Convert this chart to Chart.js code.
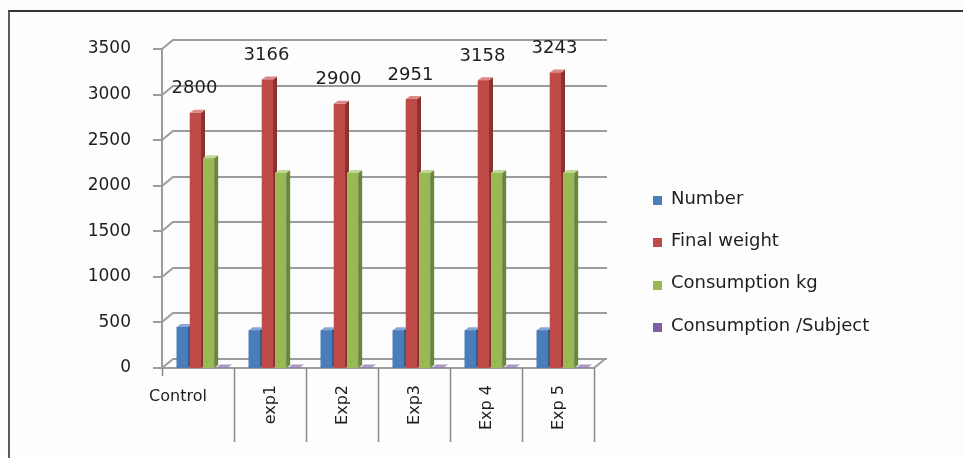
<!DOCTYPE html>
<html>
<head>
<meta charset="utf-8">
<title>Final weight and consumption</title>
<script src="https://cdn.jsdelivr.net/npm/chart.js@4.4.1/dist/chart.umd.min.js"></script>
<style>
  html, body { margin: 0; padding: 0; background: #fff; }
  #wrap { position: relative; width: 963px; height: 458px; overflow: hidden; background: #fdfdfd; }
  #frame { position: absolute; left: 8px; top: 10px; width: 970px; height: 460px;
           border-top: 2px solid #333; border-left: 2px solid #5a5a5a; }
  #chart { position: absolute; left: 0; top: 0; }
</style>
</head>
<body>
<div id="wrap">
  <div id="frame"></div>
  <canvas id="chart" width="963" height="458"></canvas>
</div>
<script>
// ---- data ----
const categories = ['Control', 'exp1', 'Exp2', 'Exp3', 'Exp 4', 'Exp 5'];
const numberValues = [450, 415, 415, 415, 415, 415];
const finalWeight = [2800, 3166, 2900, 2951, 3158, 3243];
const consumptionKg = [2300, 2140, 2140, 2140, 2140, 2140];
const consumptionPerSubject = [5.1, 5.2, 5.2, 5.2, 5.2, 5.2];
const yTicks = [0, 500, 1000, 1500, 2000, 2500, 3000, 3500];

// ---- look ----
const FONT = 'DejaVu Sans';
const TEXT = '#1e1e1e';
const GRID = '#9c9c9c';
const FRONT_SHIFT = -4;   // front edge of the floor sits a bit left of the bars
const WALL_DX = 11, WALL_DY = 9;   // depth of the back wall
const BAR_DX = 4, BAR_DY = 3;      // depth of each column

const series = [
  { label: 'Number',               data: numberValues,          front: '#4a7ebb', side: '#35598a', top: '#86a8d6' },
  { label: 'Final weight',         data: finalWeight,           front: '#be4b48', side: '#8a3230', top: '#dc8a88' },
  { label: 'Consumption kg',       data: consumptionKg,         front: '#98b954', side: '#6b873a', top: '#c2d896' },
  { label: 'Consumption /Subject', data: consumptionPerSubject, front: '#7d60a0', side: '#594577', top: '#ab97c8' }
];

const wallPlugin = {
  id: 'wall3d',
  // back wall, floor, axis line, ticks and category dividers
  beforeDatasetsDraw(chart) {
    const { ctx, chartArea, scales } = chart;
    const y = scales.y, x = scales.x;
    const fl = chartArea.left + FRONT_SHIFT;
    const fr = chartArea.right + FRONT_SHIFT;
    ctx.save();
    ctx.strokeStyle = GRID;
    ctx.lineWidth = 2;
    yTicks.forEach(v => {
      const py = Math.round(y.getPixelForValue(v));
      ctx.beginPath();
      ctx.moveTo(fl - 9, py);
      ctx.lineTo(fl, py);
      ctx.lineTo(fl + WALL_DX, py - WALL_DY);
      ctx.lineTo(fr + WALL_DX + 2, py - WALL_DY);
      ctx.stroke();
    });
    const y0 = Math.round(y.getPixelForValue(0));
    const yTop = Math.round(y.getPixelForValue(yTicks[yTicks.length - 1]));
    ctx.beginPath();
    ctx.moveTo(fl, yTop);
    ctx.lineTo(fl, y0);
    ctx.lineTo(fr, y0);
    ctx.lineTo(fr + WALL_DX, y0 - WALL_DY);
    ctx.stroke();
    ctx.strokeStyle = '#8a8a8a';
    ctx.lineWidth = 1.5;
    const w = x.width / categories.length;
    for (let i = 0; i <= categories.length; i++) {
      const px = Math.round(fl + i * w) + 0.5;
      ctx.beginPath();
      ctx.moveTo(px, y0);
      ctx.lineTo(px, i === 0 ? y0 + 8 : y0 + 74);
      ctx.stroke();
    }
    ctx.restore();
  },
  // columns again, left to right, each with its side and top face,
  // so every column covers the side face of the one before it
  afterDatasetsDraw(chart) {
    const { ctx } = chart;
    ctx.save();
    for (let c = 0; c < categories.length; c++) {
      series.forEach((s, i) => {
        const bar = chart.getDatasetMeta(i).data[c];
        const l = bar.x - bar.width / 2, r = bar.x + bar.width / 2;
        bar.draw(ctx);
        ctx.fillStyle = s.side;
        ctx.beginPath();
        ctx.moveTo(r, bar.y);
        ctx.lineTo(r + BAR_DX, bar.y - BAR_DY);
        ctx.lineTo(r + BAR_DX, bar.base - BAR_DY);
        ctx.lineTo(r, bar.base);
        ctx.closePath();
        ctx.fill();
        ctx.fillStyle = s.top;
        ctx.beginPath();
        ctx.moveTo(l, bar.y);
        ctx.lineTo(l + BAR_DX, bar.y - BAR_DY);
        ctx.lineTo(r + BAR_DX, bar.y - BAR_DY);
        ctx.lineTo(r, bar.y);
        ctx.closePath();
        ctx.fill();
      });
    }
    ctx.restore();
  },
  afterDraw(chart) {
    const { ctx, chartArea, scales } = chart;
    const x = scales.x, y = scales.y;
    const fl = chartArea.left + FRONT_SHIFT;
    const y0 = y.getPixelForValue(0);
    ctx.save();
    ctx.fillStyle = TEXT;

    // value labels over the final weight columns
    ctx.font = '18px "' + FONT + '"';
    ctx.textAlign = 'center';
    ctx.textBaseline = 'middle';
    chart.getDatasetMeta(1).data.forEach((bar, i) => {
      ctx.fillText(String(finalWeight[i]), bar.x - 1, bar.y - 24);
    });

    // category labels: first one flat, the rest turned upright
    ctx.font = '16px "' + FONT + '"';
    const w = x.width / categories.length;
    categories.forEach((c, i) => {
      const cx = fl + (i + 0.5) * w;
      if (i === 0) {
        ctx.textAlign = 'center';
        ctx.fillText(c, cx - 20, y0 + 29);
      } else {
        ctx.save();
        ctx.translate(cx + 1, y0 + 17);
        ctx.rotate(-Math.PI / 2);
        ctx.textAlign = 'right';
        ctx.fillText(c, 0, 0);
        ctx.restore();
      }
    });

    // legend
    ctx.font = '18px "' + FONT + '"';
    ctx.textAlign = 'left';
    series.forEach((s, i) => {
      const ly = 199 + i * 42.4;
      ctx.fillStyle = s.front;
      ctx.fillRect(653, Math.round(ly - 3), 9, 9);
      ctx.fillStyle = TEXT;
      ctx.fillText(s.label, 671, ly);
    });
    ctx.restore();
  }
};

new Chart(document.getElementById('chart'), {
  type: 'bar',
  data: {
    labels: categories,
    datasets: series.map(s => ({
      label: s.label,
      data: s.data,
      backgroundColor: s.front,
      borderWidth: 0,
      barPercentage: 0.85,
      categoryPercentage: 0.73
    }))
  },
  options: {
    responsive: false,
    devicePixelRatio: 1,
    animation: false,
    layout: { padding: { left: 0, top: 49, right: 365, bottom: 90 } },
    plugins: { legend: { display: false }, tooltip: { enabled: false } },
    scales: {
      x: { display: false },
      y: {
        min: 0,
        max: 3500,
        afterFit(scale) { scale.width = 166; },
        afterBuildTicks(scale) { scale.ticks = yTicks.map(v => ({ value: v })); },
        grid: { display: false },
        border: { display: false },
        ticks: {
          color: TEXT,
          padding: 27,
          font: { family: FONT, size: 17 },
          callback: v => String(v)
        }
      }
    }
  },
  plugins: [wallPlugin]
});
</script>
</body>
</html>
